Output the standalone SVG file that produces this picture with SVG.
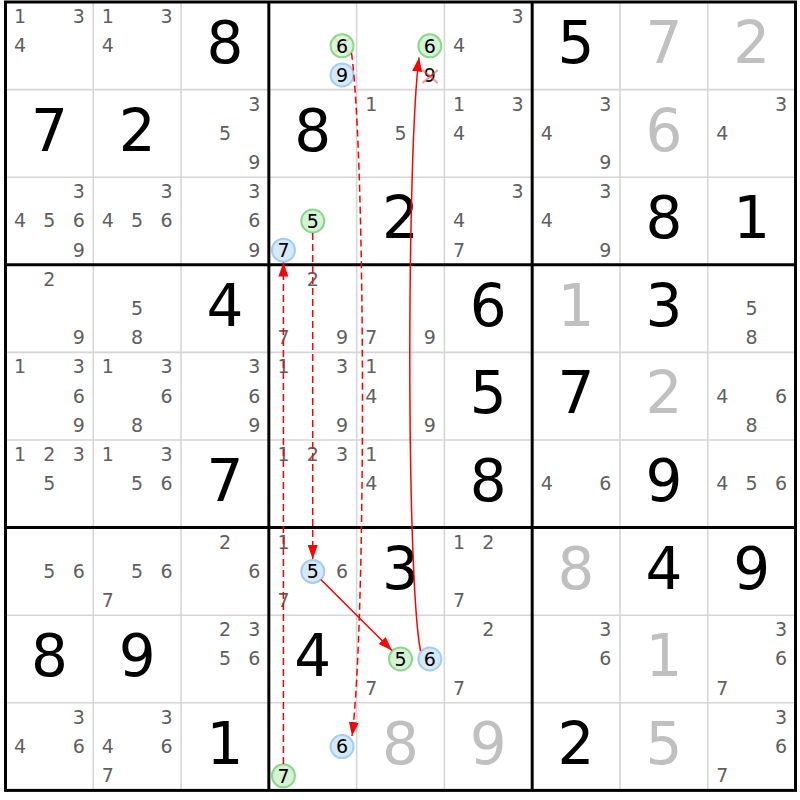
<svg xmlns="http://www.w3.org/2000/svg" width="800" height="800" viewBox="0 0 800 800">
<style>
text{font-family:"DejaVu Sans","Liberation Sans",sans-serif;text-anchor:middle}
.c{font-size:19px;fill:#5f5f5f}
.cc{font-size:19px;fill:#000}
.g{font-size:58px;fill:#000}
.s{font-size:58px;fill:#c0c0c0}
.thin{stroke:#d6d6d6;stroke-width:1.6}
.thick{stroke:#000;stroke-width:3;fill:none}
.gr{fill:#d5f2d5;stroke:#8ad88a;stroke-width:2}
.bl{fill:#d6e9fb;stroke:#a3cdf3;stroke-width:2}
.x{stroke:#ff5050;stroke-width:2.2;stroke-opacity:0.6}
.arr{stroke:#ff0000;stroke-width:1.5;fill:none;marker-end:url(#ah)}
.dash{stroke-dasharray:7 4}
</style>
<defs>
<marker id="ah" markerUnits="userSpaceOnUse" viewBox="0 0 14 10" refX="14" refY="5" markerWidth="14" markerHeight="10" orient="auto">
<path d="M0,0 L14,5 L0,10 z" fill="#ff0000"/>
</marker>
</defs>
<rect width="800" height="800" fill="#fff"/>
<g id="grid">
<g class="thin">
<line x1="93.28" y1="2" x2="93.28" y2="790.4"/>
<line x1="181.06" y1="2" x2="181.06" y2="790.4"/>
<line x1="356.62" y1="2" x2="356.62" y2="790.4"/>
<line x1="444.4" y1="2" x2="444.4" y2="790.4"/>
<line x1="619.96" y1="2" x2="619.96" y2="790.4"/>
<line x1="707.74" y1="2" x2="707.74" y2="790.4"/>
<line x1="5.5" y1="89.6" x2="795.5" y2="89.6"/>
<line x1="5.5" y1="177.2" x2="795.5" y2="177.2"/>
<line x1="5.5" y1="352.4" x2="795.5" y2="352.4"/>
<line x1="5.5" y1="440" x2="795.5" y2="440"/>
<line x1="5.5" y1="615.2" x2="795.5" y2="615.2"/>
<line x1="5.5" y1="702.8" x2="795.5" y2="702.8"/>
</g>
<g class="thick">
<rect x="5.5" y="2" width="790" height="788.4"/>
<line x1="268.84" y1="2" x2="268.84" y2="790.4"/>
<line x1="532.18" y1="2" x2="532.18" y2="790.4"/>
<line x1="5.5" y1="264.8" x2="795.5" y2="264.8"/>
<line x1="5.5" y1="527.6" x2="795.5" y2="527.6"/>
</g>
</g>

<g id="r1c1" transform="translate(5.5,2)"><text class="c" x="14.6" y="21.1">1</text><text class="c" x="73.2" y="21.1">3</text><text class="c" x="14.6" y="50.3">4</text></g>
<g id="r1c2" transform="translate(93.28,2)"><text class="c" x="14.6" y="21.1">1</text><text class="c" x="73.2" y="21.1">3</text><text class="c" x="14.6" y="50.3">4</text></g>
<g id="r1c3" transform="translate(181.06,2)"><text class="g" x="43.9" y="61">8</text></g>
<g id="r1c4" transform="translate(268.84,2)">
<line class="x" x1="66" y1="36.8" x2="80.4" y2="50.8" stroke-opacity="0.35"/>
<line class="x" x1="80.4" y1="36.8" x2="66" y2="50.8" stroke-opacity="0.35"/>
<circle class="gr" cx="73.2" cy="43.8" r="11.5" fill-opacity="0.8"/><text class="cc" x="73.2" y="50.6">6</text>
<circle class="bl" cx="73.2" cy="73" r="11.5"/><text class="cc" x="73.2" y="79.8">9</text></g>
<g id="r1c5" transform="translate(356.62,2)">
<circle class="gr" cx="73.2" cy="43.8" r="11.5"/><text class="cc" x="73.2" y="50.6">6</text>
<text class="cc" x="73.2" y="79.8">9</text>
<line class="x" x1="66" y1="68" x2="81" y2="81"/><line class="x" x1="81" y1="68" x2="66" y2="81"/></g>
<g id="r1c6" transform="translate(444.4,2)"><text class="c" x="73.2" y="21.1">3</text><text class="c" x="14.6" y="50.3">4</text></g>
<g id="r1c7" transform="translate(532.18,2)"><text class="g" x="43.9" y="61">5</text></g>
<g id="r1c8" transform="translate(619.96,2)"><text class="s" x="43.9" y="61">7</text></g>
<g id="r1c9" transform="translate(707.74,2)"><text class="s" x="43.9" y="61">2</text></g>

<g id="r2c1" transform="translate(5.5,89.6)"><text class="g" x="43.9" y="61">7</text></g>
<g id="r2c2" transform="translate(93.28,89.6)"><text class="g" x="43.9" y="61">2</text></g>
<g id="r2c3" transform="translate(181.06,89.6)"><text class="c" x="73.2" y="21.1">3</text><text class="c" x="43.9" y="50.3">5</text><text class="c" x="73.2" y="79.5">9</text></g>
<g id="r2c4" transform="translate(268.84,89.6)"><text class="g" x="43.9" y="61">8</text></g>
<g id="r2c5" transform="translate(356.62,89.6)"><text class="c" x="14.6" y="21.1">1</text><text class="c" x="43.9" y="50.3">5</text></g>
<g id="r2c6" transform="translate(444.4,89.6)"><text class="c" x="14.6" y="21.1">1</text><text class="c" x="73.2" y="21.1">3</text><text class="c" x="14.6" y="50.3">4</text></g>
<g id="r2c7" transform="translate(532.18,89.6)"><text class="c" x="73.2" y="21.1">3</text><text class="c" x="14.6" y="50.3">4</text><text class="c" x="73.2" y="79.5">9</text></g>
<g id="r2c8" transform="translate(619.96,89.6)"><text class="s" x="43.9" y="61">6</text></g>
<g id="r2c9" transform="translate(707.74,89.6)"><text class="c" x="73.2" y="21.1">3</text><text class="c" x="14.6" y="50.3">4</text></g>

<g id="r3c1" transform="translate(5.5,177.2)"><text class="c" x="73.2" y="21.1">3</text><text class="c" x="14.6" y="50.3">4</text><text class="c" x="43.9" y="50.3">5</text><text class="c" x="73.2" y="50.3">6</text><text class="c" x="73.2" y="79.5">9</text></g>
<g id="r3c2" transform="translate(93.28,177.2)"><text class="c" x="73.2" y="21.1">3</text><text class="c" x="14.6" y="50.3">4</text><text class="c" x="43.9" y="50.3">5</text><text class="c" x="73.2" y="50.3">6</text></g>
<g id="r3c3" transform="translate(181.06,177.2)"><text class="c" x="73.2" y="21.1">3</text><text class="c" x="73.2" y="50.3">6</text><text class="c" x="73.2" y="79.5">9</text></g>
<g id="r3c4" transform="translate(268.84,177.2)">
<circle class="gr" cx="43.9" cy="43.8" r="11.5"/><text class="cc" x="43.9" y="50.6">5</text>
<circle class="bl" cx="14.6" cy="73" r="11.5"/><text class="cc" x="14.6" y="79.8">7</text></g>
<g id="r3c5" transform="translate(356.62,177.2)"><text class="g" x="43.9" y="61">2</text></g>
<g id="r3c6" transform="translate(444.4,177.2)"><text class="c" x="73.2" y="21.1">3</text><text class="c" x="14.6" y="50.3">4</text><text class="c" x="14.6" y="79.5">7</text></g>
<g id="r3c7" transform="translate(532.18,177.2)"><text class="c" x="73.2" y="21.1">3</text><text class="c" x="14.6" y="50.3">4</text><text class="c" x="73.2" y="79.5">9</text></g>
<g id="r3c8" transform="translate(619.96,177.2)"><text class="g" x="43.9" y="61">8</text></g>
<g id="r3c9" transform="translate(707.74,177.2)"><text class="g" x="43.9" y="61">1</text></g>

<g id="r4c1" transform="translate(5.5,264.8)"><text class="c" x="43.9" y="21.1">2</text><text class="c" x="73.2" y="79.5">9</text></g>
<g id="r4c2" transform="translate(93.28,264.8)"><text class="c" x="43.9" y="50.3">5</text><text class="c" x="43.9" y="79.5">8</text></g>
<g id="r4c3" transform="translate(181.06,264.8)"><text class="g" x="43.9" y="61">4</text></g>
<g id="r4c4" transform="translate(268.84,264.8)"><text class="c" x="43.9" y="21.1">2</text><text class="c" x="14.6" y="79.5">7</text><text class="c" x="73.2" y="79.5">9</text></g>
<g id="r4c5" transform="translate(356.62,264.8)"><text class="c" x="14.6" y="79.5">7</text><text class="c" x="73.2" y="79.5">9</text></g>
<g id="r4c6" transform="translate(444.4,264.8)"><text class="g" x="43.9" y="61">6</text></g>
<g id="r4c7" transform="translate(532.18,264.8)"><text class="s" x="43.9" y="61">1</text></g>
<g id="r4c8" transform="translate(619.96,264.8)"><text class="g" x="43.9" y="61">3</text></g>
<g id="r4c9" transform="translate(707.74,264.8)"><text class="c" x="43.9" y="50.3">5</text><text class="c" x="43.9" y="79.5">8</text></g>

<g id="r5c1" transform="translate(5.5,352.4)"><text class="c" x="14.6" y="21.1">1</text><text class="c" x="73.2" y="21.1">3</text><text class="c" x="73.2" y="50.3">6</text><text class="c" x="73.2" y="79.5">9</text></g>
<g id="r5c2" transform="translate(93.28,352.4)"><text class="c" x="14.6" y="21.1">1</text><text class="c" x="73.2" y="21.1">3</text><text class="c" x="73.2" y="50.3">6</text><text class="c" x="43.9" y="79.5">8</text></g>
<g id="r5c3" transform="translate(181.06,352.4)"><text class="c" x="73.2" y="21.1">3</text><text class="c" x="73.2" y="50.3">6</text><text class="c" x="73.2" y="79.5">9</text></g>
<g id="r5c4" transform="translate(268.84,352.4)"><text class="c" x="14.6" y="21.1">1</text><text class="c" x="73.2" y="21.1">3</text><text class="c" x="73.2" y="79.5">9</text></g>
<g id="r5c5" transform="translate(356.62,352.4)"><text class="c" x="14.6" y="21.1">1</text><text class="c" x="14.6" y="50.3">4</text><text class="c" x="73.2" y="79.5">9</text></g>
<g id="r5c6" transform="translate(444.4,352.4)"><text class="g" x="43.9" y="61">5</text></g>
<g id="r5c7" transform="translate(532.18,352.4)"><text class="g" x="43.9" y="61">7</text></g>
<g id="r5c8" transform="translate(619.96,352.4)"><text class="s" x="43.9" y="61">2</text></g>
<g id="r5c9" transform="translate(707.74,352.4)"><text class="c" x="14.6" y="50.3">4</text><text class="c" x="73.2" y="50.3">6</text><text class="c" x="43.9" y="79.5">8</text></g>

<g id="r6c1" transform="translate(5.5,440)"><text class="c" x="14.6" y="21.1">1</text><text class="c" x="43.9" y="21.1">2</text><text class="c" x="73.2" y="21.1">3</text><text class="c" x="43.9" y="50.3">5</text></g>
<g id="r6c2" transform="translate(93.28,440)"><text class="c" x="14.6" y="21.1">1</text><text class="c" x="73.2" y="21.1">3</text><text class="c" x="43.9" y="50.3">5</text><text class="c" x="73.2" y="50.3">6</text></g>
<g id="r6c3" transform="translate(181.06,440)"><text class="g" x="43.9" y="61">7</text></g>
<g id="r6c4" transform="translate(268.84,440)"><text class="c" x="14.6" y="21.1">1</text><text class="c" x="43.9" y="21.1">2</text><text class="c" x="73.2" y="21.1">3</text></g>
<g id="r6c5" transform="translate(356.62,440)"><text class="c" x="14.6" y="21.1">1</text><text class="c" x="14.6" y="50.3">4</text></g>
<g id="r6c6" transform="translate(444.4,440)"><text class="g" x="43.9" y="61">8</text></g>
<g id="r6c7" transform="translate(532.18,440)"><text class="c" x="14.6" y="50.3">4</text><text class="c" x="73.2" y="50.3">6</text></g>
<g id="r6c8" transform="translate(619.96,440)"><text class="g" x="43.9" y="61">9</text></g>
<g id="r6c9" transform="translate(707.74,440)"><text class="c" x="14.6" y="50.3">4</text><text class="c" x="43.9" y="50.3">5</text><text class="c" x="73.2" y="50.3">6</text></g>

<g id="r7c1" transform="translate(5.5,527.6)"><text class="c" x="43.9" y="50.3">5</text><text class="c" x="73.2" y="50.3">6</text></g>
<g id="r7c2" transform="translate(93.28,527.6)"><text class="c" x="43.9" y="50.3">5</text><text class="c" x="73.2" y="50.3">6</text><text class="c" x="14.6" y="79.5">7</text></g>
<g id="r7c3" transform="translate(181.06,527.6)"><text class="c" x="43.9" y="21.1">2</text><text class="c" x="73.2" y="50.3">6</text></g>
<g id="r7c4" transform="translate(268.84,527.6)"><text class="c" x="14.6" y="21.1">1</text>
<circle class="bl" cx="43.9" cy="43.8" r="11.5"/><text class="cc" x="43.9" y="50.6">5</text>
<text class="c" x="73.2" y="50.3">6</text><text class="c" x="14.6" y="79.5">7</text></g>
<g id="r7c5" transform="translate(356.62,527.6)"><text class="g" x="43.9" y="61">3</text></g>
<g id="r7c6" transform="translate(444.4,527.6)"><text class="c" x="14.6" y="21.1">1</text><text class="c" x="43.9" y="21.1">2</text><text class="c" x="14.6" y="79.5">7</text></g>
<g id="r7c7" transform="translate(532.18,527.6)"><text class="s" x="43.9" y="61">8</text></g>
<g id="r7c8" transform="translate(619.96,527.6)"><text class="g" x="43.9" y="61">4</text></g>
<g id="r7c9" transform="translate(707.74,527.6)"><text class="g" x="43.9" y="61">9</text></g>

<g id="r8c1" transform="translate(5.5,615.2)"><text class="g" x="43.9" y="61">8</text></g>
<g id="r8c2" transform="translate(93.28,615.2)"><text class="g" x="43.9" y="61">9</text></g>
<g id="r8c3" transform="translate(181.06,615.2)"><text class="c" x="43.9" y="21.1">2</text><text class="c" x="73.2" y="21.1">3</text><text class="c" x="43.9" y="50.3">5</text><text class="c" x="73.2" y="50.3">6</text></g>
<g id="r8c4" transform="translate(268.84,615.2)"><text class="g" x="43.9" y="61">4</text></g>
<g id="r8c5" transform="translate(356.62,615.2)">
<circle class="gr" cx="43.9" cy="43.8" r="11.5"/><text class="cc" x="43.9" y="50.6">5</text>
<circle class="bl" cx="73.2" cy="43.8" r="11.5"/><text class="cc" x="73.2" y="50.6">6</text>
<text class="c" x="14.6" y="79.5">7</text></g>
<g id="r8c6" transform="translate(444.4,615.2)"><text class="c" x="43.9" y="21.1">2</text><text class="c" x="14.6" y="79.5">7</text></g>
<g id="r8c7" transform="translate(532.18,615.2)"><text class="c" x="73.2" y="21.1">3</text><text class="c" x="73.2" y="50.3">6</text></g>
<g id="r8c8" transform="translate(619.96,615.2)"><text class="s" x="43.9" y="61">1</text></g>
<g id="r8c9" transform="translate(707.74,615.2)"><text class="c" x="73.2" y="21.1">3</text><text class="c" x="73.2" y="50.3">6</text><text class="c" x="14.6" y="79.5">7</text></g>

<g id="r9c1" transform="translate(5.5,702.8)"><text class="c" x="73.2" y="21.1">3</text><text class="c" x="14.6" y="50.3">4</text><text class="c" x="73.2" y="50.3">6</text></g>
<g id="r9c2" transform="translate(93.28,702.8)"><text class="c" x="73.2" y="21.1">3</text><text class="c" x="14.6" y="50.3">4</text><text class="c" x="73.2" y="50.3">6</text><text class="c" x="14.6" y="79.5">7</text></g>
<g id="r9c3" transform="translate(181.06,702.8)"><text class="g" x="43.9" y="61">1</text></g>
<g id="r9c4" transform="translate(268.84,702.8)">
<circle class="bl" cx="73.2" cy="43.8" r="11.5"/><text class="cc" x="73.2" y="50.6">6</text>
<circle class="gr" cx="14.6" cy="73" r="11.5"/><text class="cc" x="14.6" y="79.8">7</text></g>
<g id="r9c5" transform="translate(356.62,702.8)"><text class="s" x="43.9" y="61">8</text></g>
<g id="r9c6" transform="translate(444.4,702.8)"><text class="s" x="43.9" y="61">9</text></g>
<g id="r9c7" transform="translate(532.18,702.8)"><text class="g" x="43.9" y="61">2</text></g>
<g id="r9c8" transform="translate(619.96,702.8)"><text class="s" x="43.9" y="61">5</text></g>
<g id="r9c9" transform="translate(707.74,702.8)"><text class="c" x="73.2" y="21.1">3</text><text class="c" x="73.2" y="50.3">6</text><text class="c" x="14.6" y="79.5">7</text></g>

<g id="connectors">
<path class="arr dash" d="M283.4,764 L283.4,262.5"/>
<path class="arr dash" d="M312.7,233 L312.7,559"/>
<path class="arr" d="M320.8,579.5 L392,650.5"/>
<path class="arr" d="M420.5,651 C406,575 407,150 419,57.5"/>
<path class="arr dash" d="M351.5,53 C366,160 366,630 352,736"/>
</g>
</svg>
